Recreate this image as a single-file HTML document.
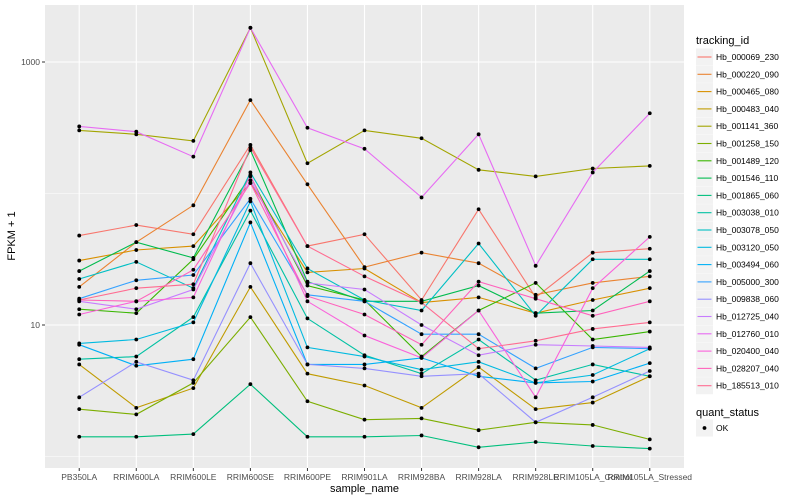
<!DOCTYPE html>
<html><head><meta charset="utf-8"><style>
body{margin:0;background:#fff;}
svg{display:block;font-family:"Liberation Sans",sans-serif;}
</style></head><body>
<svg id="chart" width="800" height="500"></svg>
<script>
const categories=["PB350LA","RRIM600LA","RRIM600LE","RRIM600SE","RRIM600PE","RRIM901LA","RRIM928BA","RRIM928LA","RRIM928LE","RRIM105LA_Control","RRIM105LA_Stressed"];
const seriesNames=["Hb_000069_230","Hb_000220_090","Hb_000465_080","Hb_000483_040","Hb_001141_360","Hb_001258_150","Hb_001489_120","Hb_001546_110","Hb_001865_060","Hb_003038_010","Hb_003078_050","Hb_003120_050","Hb_003494_060","Hb_005000_300","Hb_009838_060","Hb_012725_040","Hb_012760_010","Hb_020400_040","Hb_028207_040","Hb_185513_010"];
// log10(FPKM + 1) per sample
const s01=[1.68,1.76,1.69,2.37,1.60,1.69,1.19,1.88,1.21,1.55,1.58];
const s02=[1.29,1.63,1.91,2.71,2.07,1.44,1.55,1.47,1.23,1.32,1.37];
const s03=[1.49,1.57,1.60,2.08,1.40,1.43,1.17,1.21,1.09,1.19,1.28];
const s04=[0.70,0.37,0.52,1.29,0.63,0.54,0.37,0.68,0.36,0.41,0.61];
const s05=[2.48,2.45,2.40,3.26,2.23,2.48,2.42,2.18,2.13,2.19,2.21];
const s06=[0.36,0.32,0.56,1.06,0.42,0.28,0.29,0.20,0.26,0.24,0.13];
const s07=[1.12,1.09,1.50,2.13,1.30,1.19,0.76,1.11,1.32,0.89,0.95];
const s08=[1.41,1.63,1.51,2.33,1.33,1.18,1.18,1.30,1.09,1.11,1.41];
const s09=[0.15,0.15,0.17,0.55,0.15,0.15,0.16,0.07,0.11,0.08,0.06];
const s10=[0.74,0.76,1.06,1.87,1.05,0.77,0.63,0.89,0.58,0.70,0.61];
const s11=[1.35,1.48,1.28,2.16,1.43,1.19,1.11,1.62,1.07,1.50,1.50];
const s12=[0.86,0.89,1.02,1.94,0.83,0.76,0.66,0.72,0.56,0.62,0.82];
const s13=[0.85,0.69,0.74,1.78,0.70,0.70,0.75,0.61,0.56,0.57,0.71];
const s14=[1.20,1.34,1.38,1.96,1.23,1.18,0.93,0.93,0.67,0.83,0.82];
const s15=[0.45,0.72,0.58,1.47,0.70,0.67,0.61,0.63,0.26,0.45,0.65];
const s16=[1.18,1.12,1.27,2.10,1.32,1.27,1.00,0.77,0.85,0.84,0.83];
const s17=[2.51,2.47,2.28,3.26,2.50,2.34,1.97,2.45,1.45,2.16,2.61];
const s18=[1.08,1.18,1.21,2.14,1.18,0.92,0.75,1.11,0.45,1.28,1.67];
const s19=[1.19,1.18,1.42,2.08,1.22,1.08,0.85,1.33,1.20,1.07,1.18];
const s20=[1.19,1.28,1.31,2.35,1.60,1.37,1.17,0.82,0.88,0.97,1.02];
const yTickValues=[1,3];
const yTickLabels=["10","1000"];
const colors=["#F8766D","#EA8331","#D89000","#C09B00","#A3A500","#7CAE00","#39B600","#00BB4E","#00BF7D","#00C1A3","#00BFC4","#00BAE0","#00B0F6","#35A2FF","#9590FF","#C77CFF","#E76BF3","#FA62DB","#FF62BC","#FF6C91"];
const series=[s01,s02,s03,s04,s05,s06,s07,s08,s09,s10,s11,s12,s13,s14,s15,s16,s17,s18,s19,s20];

const NS="http://www.w3.org/2000/svg";
const svg=document.getElementById('chart');
const P={l:45,r:684,t:5,b:468};
function xPos(i){return P.l+(P.r-P.l)*(i+0.6)/(categories.length-1+1.2);}
function yPos(e){return 325-(e-1)*131.5;}
function mk(tag,at,parent){const el=document.createElementNS(NS,tag);for(const k in at)el.setAttribute(k,at[k]);(parent||svg).appendChild(el);return el;}

const panel=mk('rect',{x:P.l,y:P.t,width:P.r-P.l,height:P.b-P.t,fill:'#EBEBEB'});


[0,2].forEach(e=>{const g=mk('line',{x1:P.l,x2:P.r,y1:yPos(e),y2:yPos(e),stroke:'#fff','stroke-width':0.6});

});
yTickValues.forEach((e,i)=>{const g=mk('line',{x1:P.l,x2:P.r,y1:yPos(e),y2:yPos(e),stroke:'#fff','stroke-width':1.1});


mk('line',{x1:P.l-3,x2:P.l,y1:yPos(e),y2:yPos(e),stroke:'#333','stroke-width':1});
const t=mk('text',{x:P.l-5,y:yPos(e)+3,'text-anchor':'end','font-size':'8.5',fill:'#4d4d4d'});t.textContent=yTickLabels[i];

});
categories.forEach((c,i)=>{const x=xPos(i);
const g=mk('line',{x1:x,x2:x,y1:P.t,y2:P.b,stroke:'#fff','stroke-width':1.1});


mk('line',{x1:x,x2:x,y1:P.b,y2:P.b+3,stroke:'#333','stroke-width':1});
const t=mk('text',{x:x,y:480,'text-anchor':'middle','font-size':'8.5',fill:'#4d4d4d'});t.textContent=c;

});
series.forEach((s,k)=>{const pts=s.map((e,i)=>xPos(i).toFixed(1)+','+yPos(e).toFixed(1)).join(' ');
const l=mk('polyline',{points:pts,fill:'none',stroke:colors[k],'stroke-width':1.1});

});
series.forEach((s,k)=>{s.forEach((e,i)=>{const c=mk('circle',{cx:xPos(i),cy:yPos(e),r:1.9,fill:'#000'});

});});
const xt=mk('text',{x:(P.l+P.r)/2,y:492,'text-anchor':'middle','font-size':'11',fill:'#000'});xt.textContent='sample_name';


const yt=mk('text',{x:0,y:0,'text-anchor':'middle','font-size':'11',fill:'#000',transform:'translate(15,236) rotate(-90)'});yt.textContent='FPKM + 1';


// legend
const lt=mk('text',{x:696,y:44,'font-size':'11',fill:'#000'});lt.textContent='tracking_id';


seriesNames.forEach((n,k)=>{const y=57+k*17.3;
const g=mk('g',{});


mk('rect',{x:696,y:y-8.5,width:17,height:17,fill:'#F2F2F2'},g);
mk('line',{x1:697.5,x2:711.5,y1:y,y2:y,stroke:colors[k],'stroke-width':1.1},g);
const t=mk('text',{x:716,y:y+3,'font-size':'8.5',fill:'#000'},g);t.textContent=n;});
const qt=mk('text',{x:696,y:416,'font-size':'11',fill:'#000'});qt.textContent='quant_status';


const qg=mk('g',{});


mk('rect',{x:696,y:419.5,width:17,height:17,fill:'#F2F2F2'},qg);
mk('circle',{cx:704.5,cy:428,r:1.9,fill:'#000'},qg);
const ok=mk('text',{x:716,y:431,'font-size':'8.5',fill:'#000'},qg);ok.textContent='OK';
</script>
</body></html>
